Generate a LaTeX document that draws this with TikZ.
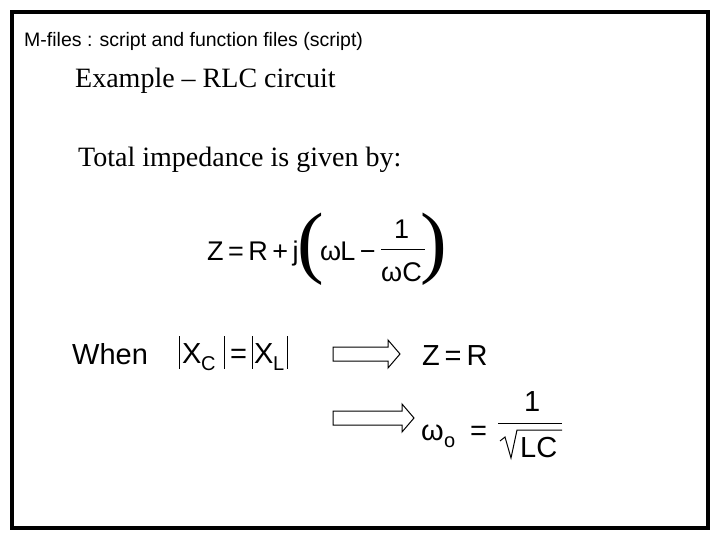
\documentclass[tikz,border=0pt]{standalone}
\usepackage{fontspec}
\setmainfont{Liberation Serif}
\setsansfont{Liberation Sans}
\begin{document}
\begin{tikzpicture}[x=1pt,y=-1pt,
  sf/.style={font=\sffamily\fontsize{29}{30}\selectfont, inner sep=0pt, anchor=base west},
  sub/.style={font=\sffamily\fontsize{20}{20}\selectfont, inner sep=0pt, anchor=base west},
  barr/.style={draw, line width=1pt, fill=white}]
\useasboundingbox (0,0) rectangle (720,540);
\fill[white] (0,0) rectangle (720,540);
\draw[line width=4pt] (12,12) rectangle (708,528);
\node[font=\sffamily\fontsize{19.5}{21}\selectfont, anchor=base west, inner sep=0pt] (t) at (24,47) {M-files : script and function files (script)};
\node[font=\fontsize{28}{30}\selectfont, anchor=base west, inner sep=0pt] (ex) at (75,88) {Example -- RLC circuit};
\node[font=\fontsize{28}{30}\selectfont, anchor=base west, inner sep=0pt] (ti) at (78,167) {Total impedance is given by:};
% formula
\node[sf, font=\sffamily\fontsize{27}{30}\selectfont] (z) at (207,260) {Z\,=\,R\,+\,j};
\node[font=\fontsize{80}{80}\selectfont, inner sep=0pt] (lp) at (311,249) {(};
\node[sf, font=\sffamily\fontsize{27}{30}\selectfont] (wl) at (320,260) {ω\hspace{-1pt}L\,−};
\node[sf, font=\sffamily\fontsize{27}{30}\selectfont] (one) at (394,238) {1};
\draw[line width=1pt] (381,249) -- (425,249);
\node[sf, font=\sffamily\fontsize{27}{30}\selectfont] (wc) at (381,281) {ωC};
\node[font=\fontsize{80}{80}\selectfont, inner sep=0pt] (rp) at (434,249) {)};
% when
\node[sf] (w) at (72,364) {When};
\draw[line width=0.8pt] (179,336) -- (179,369) (224,336) -- (224,369) (252,336) -- (252,369) (287,336) -- (287,369);
\node[sf] (xc) at (182,363) {X};
\node[sub] at (201,370) {C};
\node[sf] at (230,363) {=};
\node[sf] (xl) at (254,363) {X};
\node[sub] at (273,370) {L};
\draw[barr] (333,347) -- (388,347) -- (388,340) -- (400,354) -- (388,368) -- (388,361) -- (333,361) -- cycle;
\draw[barr] (333,411) -- (402,411) -- (402,404) -- (414,418) -- (402,432) -- (402,425) -- (333,425) -- cycle;
\node[sf] (zr) at (422,365) {Z\,=\,R};
\node[sf] (wo) at (421,440) {ω};
\node[sub] at (444,447) {o};
\node[sf] at (470,440) {=};
\node[sf] (one2) at (524,411) {1};
\draw[line width=1pt] (498,423) -- (562,423);
\draw[line width=1pt] (500,441) -- (505,437) -- (511,458) -- (517,430) -- (562,430);
\node[sf] (lc) at (520,457) {LC};
\end{tikzpicture}
\end{document}
